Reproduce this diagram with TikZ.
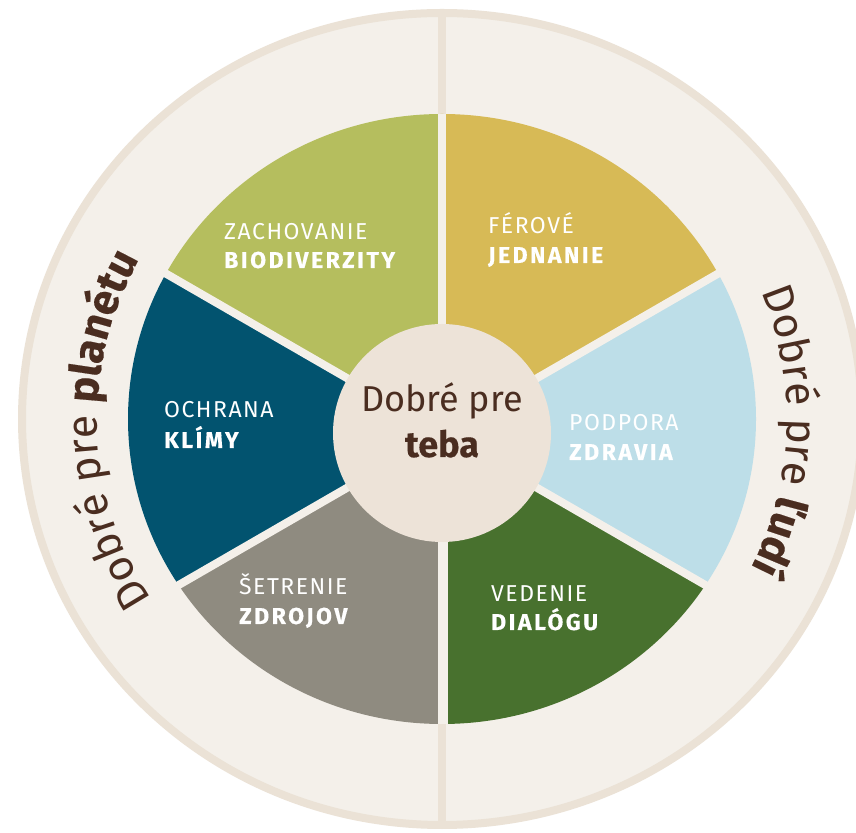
\documentclass[tikz,border=0pt]{standalone}
\usepackage{fontspec}
\setmainfont[BoldFeatures={FakeBold=0.4}]{Fira Sans}
\newfontfamily\lblregfont[LetterSpace=6.5]{Fira Sans}
\newfontfamily\lblboldfont[LetterSpace=11, BoldFeatures={FakeBold=0.4}]{Fira Sans}
\usetikzlibrary{decorations.text,calc}
\definecolor{ringfill}{HTML}{F4F0EA}
\definecolor{ringedge}{HTML}{EBE2D6}
\definecolor{gapc}{HTML}{F4F0EA}
\definecolor{bio}{HTML}{B5BE5E}
\definecolor{fer}{HTML}{D7BA56}
\definecolor{pod}{HTML}{BDDEE8}
\definecolor{ved}{HTML}{48712E}
\definecolor{setr}{HTML}{8F8B80}
\definecolor{och}{HTML}{02536F}
\definecolor{inner}{HTML}{EDE3D8}
\definecolor{tb}{HTML}{4A2D20}
\newcommand\curvereg{\color{tb}\fontsize{43}{43}\selectfont\mdseries}
\newcommand\curvebold{\color{tb}\fontsize{43}{43}\selectfont\bfseries}
\begin{document}
\begin{tikzpicture}[x=1pt,y=1pt,
  lbl/.style={anchor=base west, inner sep=0pt, text=white, font=\lblregfont\fontsize{23}{23}\selectfont},
  lblb/.style={anchor=base west, inner sep=0pt, text=white, font=\lblboldfont\fontsize{23}{23}\selectfont\bfseries},
  ctr/.style={anchor=base, inner sep=0pt, text=tb, font=\fontsize{36}{36}\selectfont},
  ctrb/.style={anchor=base, inner sep=0pt, text=tb, font=\fontsize{36}{36}\selectfont\bfseries}]
\useasboundingbox (0,0) rectangle (856,832);
\fill[white] (0,0) rectangle (856,832);
\clip (0,0) rectangle (856,832);
\coordinate (W) at (442,413);
\coordinate (P) at (442,399);
% outer ring
\filldraw[fill=ringfill, draw=ringedge, line width=8] (W) ellipse [x radius=420, y radius=406];
\draw[ringedge, line width=8] (442,820) -- (442,8);
% wedges
\foreach \a/\m/\b/\c in {30/60/90/fer, 90/120/150/bio, 150/180/210/och, 210/240/270/setr, 270/300/330/ved, -30/0/30/pod} {
  \begin{scope}
    \clip (P) -- ($(P)+(\a:800)$) -- ($(P)+(\m:800)$) -- ($(P)+(\b:800)$) -- cycle;
    \fill[\c] (W) ellipse [x radius=314, y radius=305];
  \end{scope}
}
% gaps
\draw[gapc, line width=8] (P) -- ++(0,319);
\draw[gapc, line width=10] (443,399) -- ++(0,-291);
\foreach \a in {30,150,210,330} \draw[gapc, line width=8] (P) -- ++(\a:345);
% inner circle
\fill[inner] (P) circle [radius=109];
% center text
\node[ctr] (c1) at (442,420) {Dobré pre};
\node[ctrb] (c2) at (442,375) {teba};
% labels
\node[lbl] (bio1) at (224,592) {ZACHOVANIE};
\node[lblb] (bio2) at (224,564) {BIODIVERZITY};
\node[lbl] (fer1) at (488,598) {FÉROVÉ};
\node[lblb] (fer2) at (488,569) {JEDNANIE};
\node[lbl] (och1) at (164,414) {OCHRANA};
\node[lblb] (och2) at (164,384) {KLÍMY};
\node[lbl] (pod1) at (569,401) {PODPORA};
\node[lblb] (pod2) at (569,372) {ZDRAVIA};
\node[lbl] (set1) at (239,237) {ŠETRENIE};
\node[lblb] (set2) at (239,208) {ZDROJOV};
\node[lbl] (ved1) at (491,230) {VEDENIE};
\node[lblb] (ved2) at (491,202) {DIALÓGU};
% curved texts
\path[decorate, decoration={text along path, text align=center,
  text={|\curvereg|Dobré pre |\curvebold|planétu}}]
  (W) ++(242:345 and 334) arc[start angle=242, end angle=122, x radius=345, y radius=334];
\path[decorate, decoration={text along path, text align=center,
  text={|\curvereg|Dobré pre |\curvebold|ľudí}}]
  (W) ++(57:345 and 334) arc[start angle=57, end angle=-61, x radius=345, y radius=334];
\end{tikzpicture}
\end{document}
